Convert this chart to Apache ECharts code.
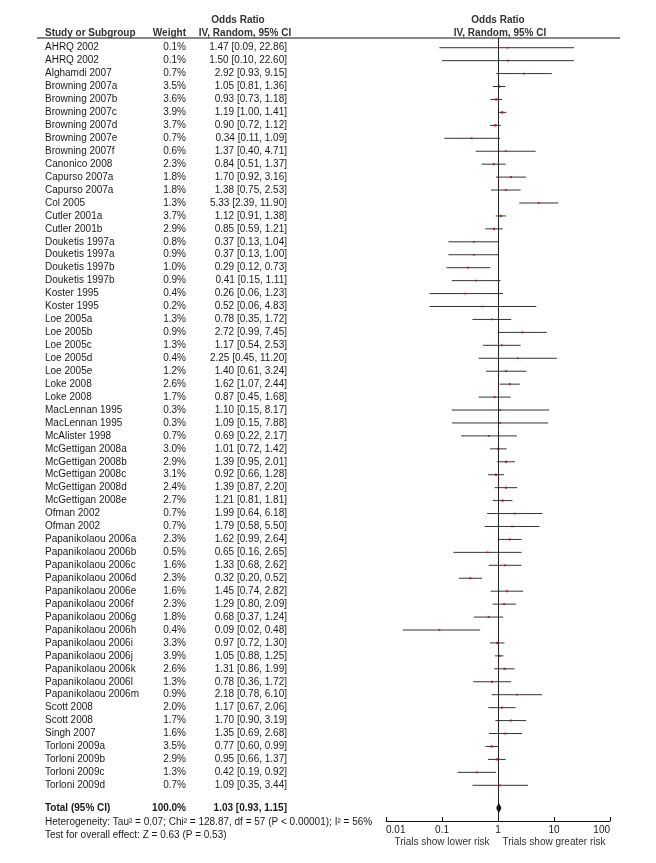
<!DOCTYPE html>
<html><head><meta charset="utf-8">
<script src="https://cdn.jsdelivr.net/npm/echarts@6/dist/echarts.min.js"></script>
<style>html,body{margin:0;padding:0;background:#fff}#c{width:656px;height:863px}</style>
</head><body><div id="c"></div>
<script>
const studies = ["AHRQ 2002","AHRQ 2002","Alghamdi 2007","Browning 2007a","Browning 2007b","Browning 2007c","Browning 2007d","Browning 2007e","Browning 2007f","Canonico 2008","Capurso 2007a","Capurso 2007a","Col 2005","Cutler 2001a","Cutler 2001b","Douketis 1997a","Douketis 1997a","Douketis 1997b","Douketis 1997b","Koster 1995","Koster 1995","Loe 2005a","Loe 2005b","Loe 2005c","Loe 2005d","Loe 2005e","Loke 2008","Loke 2008","MacLennan 1995","MacLennan 1995","McAlister 1998","McGettigan 2008a","McGettigan 2008b","McGettigan 2008c","McGettigan 2008d","McGettigan 2008e","Ofman 2002","Ofman 2002","Papanikolaou 2006a","Papanikolaou 2006b","Papanikolaou 2006c","Papanikolaou 2006d","Papanikolaou 2006e","Papanikolaou 2006f","Papanikolaou 2006g","Papanikolaou 2006h","Papanikolaou 2006i","Papanikolaou 2006j","Papanikolaou 2006k","Papanikolaou 2006l","Papanikolaou 2006m","Scott 2008","Scott 2008","Singh 2007","Torloni 2009a","Torloni 2009b","Torloni 2009c","Torloni 2009d"];
const weights = [0.1,0.1,0.7,3.5,3.6,3.9,3.7,0.7,0.6,2.3,1.8,1.8,1.3,3.7,2.9,0.8,0.9,1.0,0.9,0.4,0.2,1.3,0.9,1.3,0.4,1.2,2.6,1.7,0.3,0.3,0.7,3.0,2.9,3.1,2.4,2.7,0.7,0.7,2.3,0.5,1.6,2.3,1.6,2.3,1.8,0.4,3.3,3.9,2.6,1.3,0.9,2.0,1.7,1.6,3.5,2.9,1.3,0.7];
const oddsRatio = [1.47,1.50,2.92,1.05,0.93,1.19,0.90,0.34,1.37,0.84,1.70,1.38,5.33,1.12,0.85,0.37,0.37,0.29,0.41,0.26,0.52,0.78,2.72,1.17,2.25,1.40,1.62,0.87,1.10,1.09,0.69,1.01,1.39,0.92,1.39,1.21,1.99,1.79,1.62,0.65,1.33,0.32,1.45,1.29,0.68,0.09,0.97,1.05,1.31,0.78,2.18,1.17,1.70,1.35,0.77,0.95,0.42,1.09];
const ciLow = [0.09,0.10,0.93,0.81,0.73,1.00,0.72,0.11,0.40,0.51,0.92,0.75,2.39,0.91,0.59,0.13,0.13,0.12,0.15,0.06,0.06,0.35,0.99,0.54,0.45,0.61,1.07,0.45,0.15,0.15,0.22,0.72,0.95,0.66,0.87,0.81,0.64,0.58,0.99,0.16,0.68,0.20,0.74,0.80,0.37,0.02,0.72,0.88,0.86,0.36,0.78,0.67,0.90,0.69,0.60,0.66,0.19,0.35];
const ciHigh = [22.86,22.60,9.15,1.36,1.18,1.41,1.12,1.09,4.71,1.37,3.16,2.53,11.90,1.38,1.21,1.04,1.00,0.73,1.11,1.23,4.83,1.72,7.45,2.53,11.20,3.24,2.44,1.68,8.17,7.88,2.17,1.42,2.01,1.28,2.20,1.81,6.18,5.50,2.64,2.65,2.62,0.52,2.82,2.09,1.24,0.48,1.30,1.25,1.99,1.72,6.10,2.06,3.19,2.68,0.99,1.37,0.92,3.44];
const totalLabel = "Total (95% CI)";
const totalWeight = 100.0;
const totalOR = 1.03, totalLow = 0.93, totalHigh = 1.15;
const xTicks = [0.01, 0.1, 1, 10, 100];
const heterogeneityText = "Heterogeneity: Tau\u00b2 = 0.07; Chi\u00b2 = 128.87, df = 57 (P < 0.00001); I\u00b2 = 56%";
const overallText = "Test for overall effect: Z = 0.63 (P = 0.53)";

const FONT = '"Liberation Sans", Arial, sans-serif';
const TXT = '#1a1a1a';
const nRows = studies.length;
const totalRow = nRows + 0.75;
const yMin = -0.75, yMax = 59.76;
const COL_STUDY = 45, COL_WEIGHT = 186, COL_CI = 287;

function ciText(o, l, h) { return o.toFixed(2) + ' [' + l.toFixed(2) + ', ' + h.toFixed(2) + ']'; }

const rowData = studies.map((s, i) => [i, weights[i], oddsRatio[i], ciLow[i], ciHigh[i]]);

const chart = echarts.init(document.getElementById('c'), null, {renderer: 'canvas'});
chart.setOption({
  animation: false,
  backgroundColor: '#fff',
  textStyle: {fontFamily: FONT},
  grid: [
    {left: 386, width: 224, top: 38, height: 783, containLabel: false},
    {left: 0, width: 656, top: 38, height: 783, containLabel: false}
  ],
  xAxis: [
    {gridIndex: 0, type: 'log', logBase: 10, min: 0.01, max: 100, position: 'bottom',
     axisLine: {show: true, onZero: false, lineStyle: {color: '#111', width: 1}},
     axisTick: {show: true, inside: true, length: 4, lineStyle: {color: '#111'}},
     axisLabel: {show: true, fontSize: 10, color: TXT, margin: 4, fontFamily: FONT,
       alignMinLabel: 'left', alignMaxLabel: 'right',
       formatter: v => { const t = xTicks.find(k => Math.abs(Math.log10(k) - Math.log10(v)) < 1e-6); return t === undefined ? '' : String(t); }},
     splitLine: {show: false}},
    {gridIndex: 1, type: 'value', min: 0, max: 656, show: false}
  ],
  yAxis: [
    {gridIndex: 0, type: 'value', min: yMin, max: yMax, inverse: true, show: false},
    {gridIndex: 1, type: 'value', min: yMin, max: yMax, inverse: true, show: false}
  ],
  graphic: [
    {type: 'line', shape: {x1: 37, y1: 38, x2: 620, y2: 38}, style: {stroke: '#111', lineWidth: 1.2}},
    {type: 'text', x: COL_STUDY, y: 33, style: {text: 'Study or Subgroup', font: 'bold 10px ' + FONT, fill: '#333', textAlign: 'left', textVerticalAlign: 'middle'}},
    {type: 'text', x: COL_WEIGHT, y: 33, style: {text: 'Weight', font: 'bold 10px ' + FONT, fill: '#333', textAlign: 'right', textVerticalAlign: 'middle'}},
    {type: 'text', x: 238, y: 20, style: {text: 'Odds Ratio', font: 'bold 10px ' + FONT, fill: '#333', textAlign: 'center', textVerticalAlign: 'middle'}},
    {type: 'text', x: 245, y: 33, style: {text: 'IV, Random, 95% CI', font: 'bold 10px ' + FONT, fill: '#333', textAlign: 'center', textVerticalAlign: 'middle'}},
    {type: 'text', x: 498, y: 20, style: {text: 'Odds Ratio', font: 'bold 10px ' + FONT, fill: '#333', textAlign: 'center', textVerticalAlign: 'middle'}},
    {type: 'text', x: 500, y: 33, style: {text: 'IV, Random, 95% CI', font: 'bold 10px ' + FONT, fill: '#333', textAlign: 'center', textVerticalAlign: 'middle'}},
    {type: 'text', x: COL_STUDY, y: 822, style: {text: heterogeneityText, font: '10px ' + FONT, fill: TXT, textAlign: 'left', textVerticalAlign: 'middle'}},
    {type: 'text', x: COL_STUDY, y: 835, style: {text: overallText, font: '10px ' + FONT, fill: TXT, textAlign: 'left', textVerticalAlign: 'middle'}},
    {type: 'text', x: 442, y: 842, style: {text: 'Trials show lower risk', font: '10px ' + FONT, fill: '#333', textAlign: 'center', textVerticalAlign: 'middle'}},
    {type: 'text', x: 554, y: 842, style: {text: 'Trials show greater risk', font: '10px ' + FONT, fill: '#333', textAlign: 'center', textVerticalAlign: 'middle'}}
  ],
  series: [
    {
      type: 'custom', xAxisIndex: 0, yAxisIndex: 0, clip: false,
      data: rowData,
      renderItem: function (params, api) {
        const i = api.value(0), w = api.value(1), o = api.value(2), l = api.value(3), h = api.value(4);
        const pl = api.coord([l, i]), ph = api.coord([h, i]), po = api.coord([o, i]);
        const sz = 1.6 + w * 0.18;
        return {type: 'group', children: [
          {type: 'line', shape: {x1: pl[0], y1: pl[1], x2: ph[0], y2: ph[1]}, style: {stroke: '#333', lineWidth: 1}},
          {type: 'rect', shape: {x: po[0] - sz / 2, y: po[1] - sz / 2, width: sz, height: sz}, style: {fill: '#c0141c'}}
        ]};
      },
      markLine: {silent: true, symbol: 'none', label: {show: false},
        lineStyle: {color: '#222', width: 1, type: 'solid'}, data: [{xAxis: 1}]}
    },
    {
      type: 'custom', xAxisIndex: 0, yAxisIndex: 0, clip: false,
      data: [[totalRow, totalOR, totalLow, totalHigh]],
      renderItem: function (params, api) {
        const r = api.value(0), o = api.value(1), l = api.value(2), h = api.value(3);
        const pl = api.coord([l, r]), ph = api.coord([h, r]), po = api.coord([o, r]);
        return {type: 'polygon', shape: {points: [[pl[0], pl[1]], [po[0], po[1] - 5.5], [ph[0], ph[1]], [po[0], po[1] + 5.5]]},
          style: {fill: '#000'}};
      }
    },
    {
      type: 'custom', xAxisIndex: 1, yAxisIndex: 1, clip: false,
      data: rowData,
      renderItem: function (params, api) {
        const i = api.value(0);
        const idx = params.dataIndex;
        const y = api.coord([0, i])[1];
        const f = '10px ' + FONT;
        return {type: 'group', children: [
          {type: 'text', x: api.coord([COL_STUDY, i])[0], y: y, style: {text: studies[idx], font: f, fill: TXT, textAlign: 'left', textVerticalAlign: 'middle'}},
          {type: 'text', x: api.coord([COL_WEIGHT, i])[0], y: y, style: {text: weights[idx].toFixed(1) + '%', font: f, fill: TXT, textAlign: 'right', textVerticalAlign: 'middle'}},
          {type: 'text', x: api.coord([COL_CI, i])[0], y: y, style: {text: ciText(oddsRatio[idx], ciLow[idx], ciHigh[idx]), font: f, fill: TXT, textAlign: 'right', textVerticalAlign: 'middle'}}
        ]};
      }
    },
    {
      type: 'custom', xAxisIndex: 1, yAxisIndex: 1, clip: false,
      data: [[totalRow, totalWeight, totalOR, totalLow, totalHigh]],
      renderItem: function (params, api) {
        const r = api.value(0);
        const y = api.coord([0, r])[1];
        const f = 'bold 10px ' + FONT;
        return {type: 'group', children: [
          {type: 'text', x: api.coord([COL_STUDY, r])[0], y: y, style: {text: totalLabel, font: f, fill: TXT, textAlign: 'left', textVerticalAlign: 'middle'}},
          {type: 'text', x: api.coord([COL_WEIGHT, r])[0], y: y, style: {text: api.value(1).toFixed(1) + '%', font: f, fill: TXT, textAlign: 'right', textVerticalAlign: 'middle'}},
          {type: 'text', x: api.coord([COL_CI, r])[0], y: y, style: {text: ciText(api.value(2), api.value(3), api.value(4)), font: f, fill: TXT, textAlign: 'right', textVerticalAlign: 'middle'}}
        ]};
      }
    }
  ]
});
</script>
</body></html>
